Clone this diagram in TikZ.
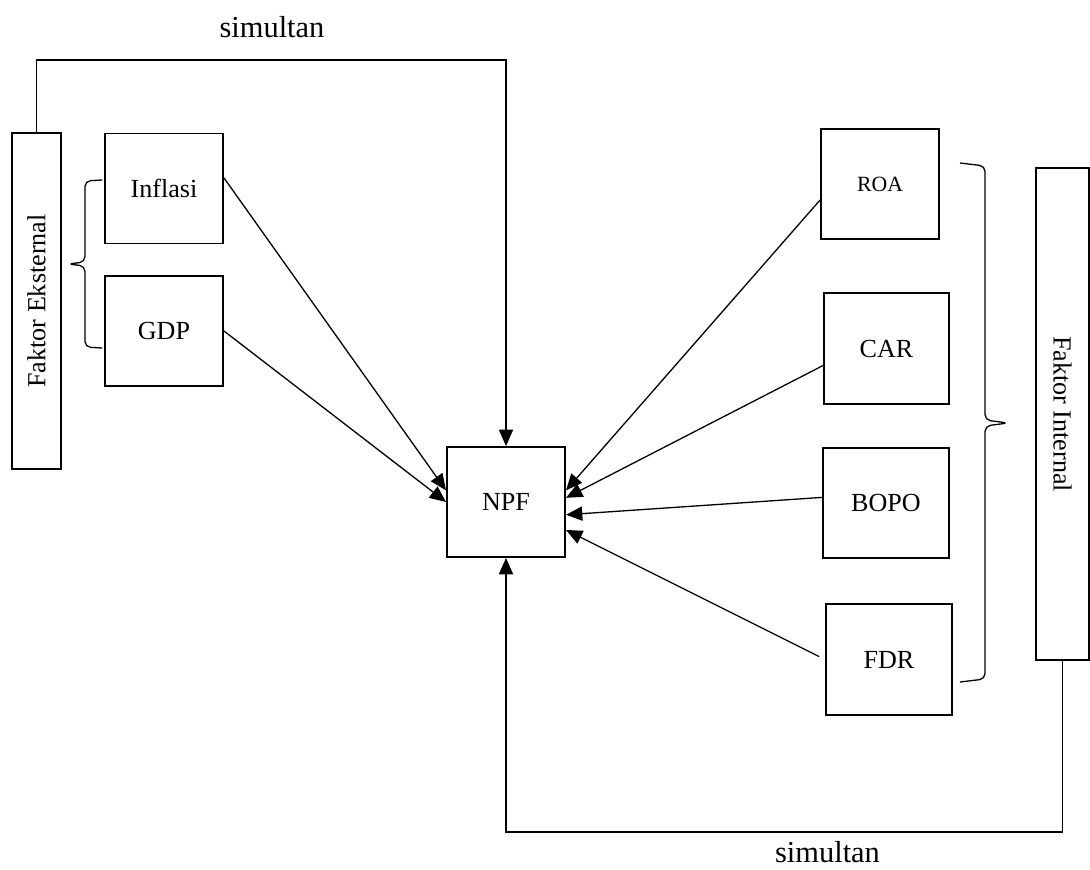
\documentclass[tikz,border=0pt]{standalone}
\usepackage{fontspec}
\setmainfont{Liberation Serif}
\usetikzlibrary{arrows.meta}
\newcommand{\pxu}{0.46pt}
\tikzset{
  box/.style={draw, line width=0.9pt, inner sep=0pt,
    font=\fontsize{12}{14}\selectfont,
    minimum width=118*\pxu, minimum height=110*\pxu},
  arr/.style={line width=0.6pt, -{Triangle[length=7.5pt,width=6.5pt]}},
  lbl/.style={inner sep=0pt, font=\fontsize{14}{16}\selectfont},
  brace/.style={line width=0.6pt, rounded corners=2.5pt}
}
\begin{document}
\begin{tikzpicture}[x=\pxu, y=-\pxu]
  \useasboundingbox (0,0) rectangle (1090,869);
  \path
    (36.5,301) node[box, rotate=90, minimum width=336*\pxu, minimum height=49*\pxu] (eks){Faktor Eksternal}
    (164,188.5) node[box] (inflasi){Inflasi}
    (164,331) node[box] (gdp){GDP}
    (506,502) node[box] (npf){NPF}
    (880,184) node[box, font=\fontsize{10}{12}\selectfont] (roa){ROA}
    (886.5,348.5) node[box, minimum width=125*\pxu, minimum height=111*\pxu] (car){CAR}
    (886,503) node[box, minimum width=126*\pxu] (bopo){BOPO}
    (889,659.5) node[box, minimum width=126*\pxu, minimum height=111*\pxu] (fdr){FDR}
    (1062.5,414) node[box, rotate=-90, minimum width=492*\pxu, minimum height=53*\pxu] (int){Faktor Internal}
    (272,27.5) node[lbl] (simatas){simultan}
    (827.5,852.5) node[lbl] (simbawah){simultan};
  \coordinate (atas) at (272,60);
  \coordinate (bawah) at (827.5,832);
  % kurung kurawal
  \draw[brace] (102,180) -- (85,181) -- (85,262) -- (68,264) -- (85,266) -- (85,347) -- (102,348);
  \draw[brace] (960,163) -- (985,166) -- (985,420) -- (1008,423) -- (985,426) -- (985,679) -- (960,682);
  \begin{scope}[arr]
    \draw (eks.east) |- (atas) -| (npf.north);
    \draw (int.east) |- (bawah) -| (npf.south);
    \draw (inflasi.10) to (npf.169);
    \draw (gdp.east) to (npf.west);
    \draw (roa.195) to (npf.11);
    \draw (car.195.5) to (npf.4);
    \draw (bopo.175.5) to (npf.348);
    \draw[shorten <=3pt] (fdr.west) to (npf.335);
  \end{scope}
\end{tikzpicture}
\end{document}
